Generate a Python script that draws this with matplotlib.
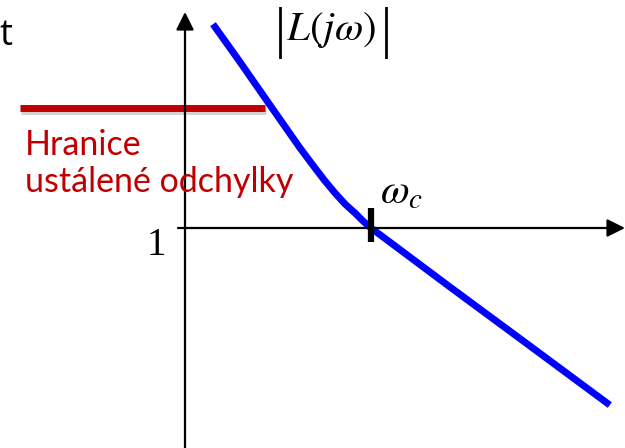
import matplotlib
matplotlib.use('Agg')
from matplotlib import pyplot as plt
import matplotlib.patheffects as pe

plt.rcParams['mathtext.fontset'] = 'stix'

# sketch of |L(jw)| (origin = axis crossing, y up)
omega = [30, 55, 87, 115, 130, 140, 150, 160, 170, 178, 186, 265, 345, 422]
mag = [201, 166, 120, 80, 60, 47, 35, 24, 15, 7, 0, -59, -118, -175]
omega_c = 186
limit_level = 120
limit_span = [-165, 80]

fig = plt.figure(figsize=(6.25, 4.48), dpi=100)
ax = fig.add_axes([0, 0, 1, 1])
ax.set_xlim(-185, 440)
ax.set_ylim(-220, 228)
ax.axis('off')

# axes with arrows
arrow = dict(arrowstyle='-|>', mutation_scale=27, lw=1.6, color='black',
             shrinkA=0, shrinkB=0)
ax.annotate('', xy=(0, 216), xytext=(0, -220), arrowprops=arrow)
ax.annotate('', xy=(440, 0), xytext=(-7, 0), arrowprops=arrow)

# steady-state error boundary
ax.plot(limit_span, [limit_level, limit_level], color='#C00000', lw=5,
        solid_capstyle='butt',
        path_effects=[pe.SimpleLineShadow(offset=(0.5, -2), shadow_color='gray', alpha=0.35),
                      pe.Normal()])

# magnitude curve
ax.plot(omega, mag, color='#0000FF', lw=5, solid_joinstyle='round')

# crossover tick
ax.plot([omega_c, omega_c], [-14, 20], color='black', lw=4.5, solid_capstyle='butt')

ax.text(-186, 183, 't', fontsize=26, family='Open Sans', va='baseline', ha='left')
ax.text(95, 195, '|', fontsize=40, family='Liberation Serif', va='center', ha='center')
ax.text(101, 188, r'$L(j\omega)$', fontsize=29.5, va='baseline', ha='left')
ax.text(201, 195, '|', fontsize=40, family='Liberation Serif', va='center', ha='center')
ax.text(216, 37, r'$\omega_c$', fontsize=30, va='center', ha='center')
ax.text(-29, -17, '1', fontsize=28, family='Liberation Serif', va='center', ha='center')
ax.text(-160, 73, 'Hranice', fontsize=24.5, family='Lato', color='#C00000', va='baseline')
ax.text(-160, 36, 'ustálené odchylky', fontsize=24.5, family='Lato', color='#C00000', va='baseline')

fig.savefig('out.png', dpi=100)
